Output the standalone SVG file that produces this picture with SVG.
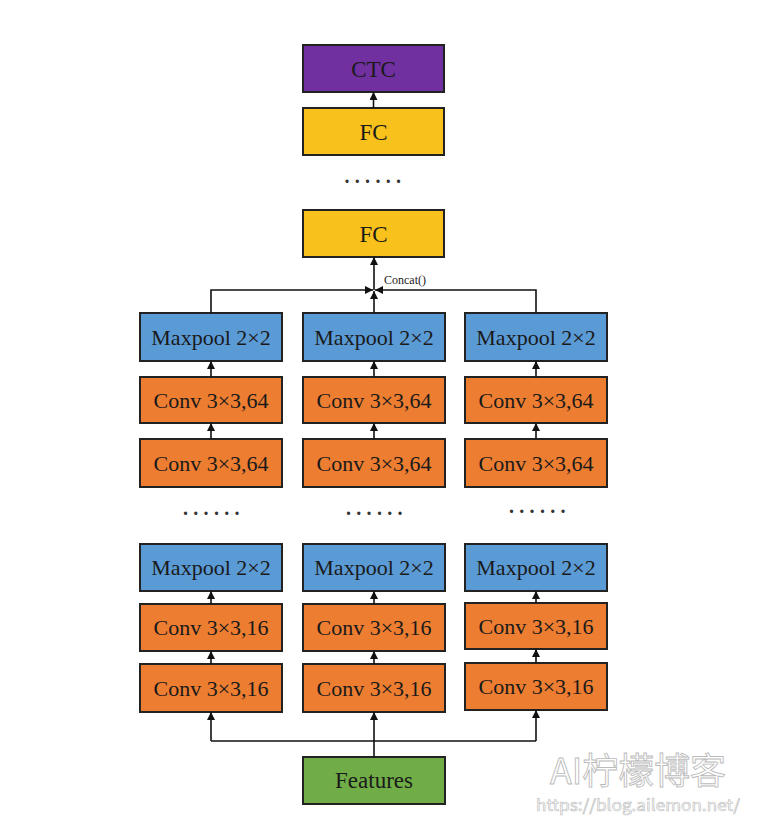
<svg xmlns="http://www.w3.org/2000/svg" width="766" height="836" viewBox="0 0 766 836">
<defs>
<marker id="ah" viewBox="0 0 8 8" refX="8" refY="4" markerWidth="8" markerHeight="8" markerUnits="userSpaceOnUse" orient="auto">
<path d="M0,0 L8,4 L0,8 z" fill="#111"/>
</marker>
</defs>
<style>
rect{stroke:#222;stroke-width:2}
.ctc{fill:#7030A0}
.fc{fill:#F9C11C}
.mp{fill:#5B9BD5}
.cv{fill:#ED7D31}
.ft{fill:#70AD47}
text{font-family:"Liberation Serif","Times New Roman",serif;fill:#1a1a1a;text-anchor:middle}
.t{font-size:22px}
.b{font-size:23px}
.sm{font-size:12px;text-anchor:start}
.dots{font-size:20px;letter-spacing:5.3px;text-anchor:start;font-weight:bold;fill:#333}
.cn line,.cn path{stroke:#111;stroke-width:1.6;fill:none}
.wm{font-family:"Noto Sans CJK SC","Noto Sans",sans-serif;fill:#fff;stroke:#bbb;stroke-width:0.9;text-anchor:start}
</style>
<rect width="766" height="836" fill="#fff" style="stroke:none"/>

<g id="ctc"><rect class="ctc" x="303" y="45" width="141" height="47"/><text class="b" x="373.5" y="76.5">CTC</text></g>
<g id="fc-top"><rect class="fc" x="303" y="108" width="141" height="47"/><text class="b" x="373.5" y="139.5">FC</text></g>
<text class="dots" x="344.5" y="183">......</text>
<g id="fc"><rect class="fc" x="303" y="210" width="141" height="47"/><text class="b" x="373.5" y="241.5">FC</text></g>
<text class="sm" x="384" y="284">Concat()</text>

<g id="mp1-l"><rect class="mp" x="140" y="313" width="142" height="48"/><text class="t" x="211" y="344.5">Maxpool 2×2</text></g>
<g id="mp1-m"><rect class="mp" x="303" y="313" width="142" height="48"/><text class="t" x="374" y="344.5">Maxpool 2×2</text></g>
<g id="mp1-r"><rect class="mp" x="465" y="313" width="142" height="48"/><text class="t" x="536" y="344.5">Maxpool 2×2</text></g>

<g id="c64a-l"><rect class="cv" x="140" y="377" width="142" height="46"/><text class="t" x="211" y="407.5">Conv 3×3,64</text></g>
<g id="c64a-m"><rect class="cv" x="303" y="377" width="142" height="46"/><text class="t" x="374" y="407.5">Conv 3×3,64</text></g>
<g id="c64a-r"><rect class="cv" x="465" y="377" width="142" height="46"/><text class="t" x="536" y="407.5">Conv 3×3,64</text></g>

<g id="c64b-l"><rect class="cv" x="140" y="439" width="142" height="48"/><text class="t" x="211" y="470.5">Conv 3×3,64</text></g>
<g id="c64b-m"><rect class="cv" x="303" y="439" width="142" height="48"/><text class="t" x="374" y="470.5">Conv 3×3,64</text></g>
<g id="c64b-r"><rect class="cv" x="465" y="439" width="142" height="48"/><text class="t" x="536" y="470.5">Conv 3×3,64</text></g>

<text class="dots" x="183" y="515">......</text>
<text class="dots" x="346" y="515">......</text>
<text class="dots" x="509" y="513">......</text>

<g id="mp2-l"><rect class="mp" x="140" y="544" width="142" height="47"/><text class="t" x="211" y="575">Maxpool 2×2</text></g>
<g id="mp2-m"><rect class="mp" x="303" y="544" width="142" height="47"/><text class="t" x="374" y="575">Maxpool 2×2</text></g>
<g id="mp2-r"><rect class="mp" x="465" y="544" width="142" height="47"/><text class="t" x="536" y="575">Maxpool 2×2</text></g>

<g id="c16a-l"><rect class="cv" x="140" y="604" width="142" height="47"/><text class="t" x="211" y="635">Conv 3×3,16</text></g>
<g id="c16a-m"><rect class="cv" x="303" y="604" width="142" height="47"/><text class="t" x="374" y="635">Conv 3×3,16</text></g>
<g id="c16a-r"><rect class="cv" x="465" y="603" width="142" height="46"/><text class="t" x="536" y="633.5">Conv 3×3,16</text></g>

<g id="c16b-l"><rect class="cv" x="140" y="664" width="142" height="48"/><text class="t" x="211" y="695.5">Conv 3×3,16</text></g>
<g id="c16b-m"><rect class="cv" x="303" y="664" width="142" height="48"/><text class="t" x="374" y="695.5">Conv 3×3,16</text></g>
<g id="c16b-r"><rect class="cv" x="465" y="663" width="142" height="47"/><text class="t" x="536" y="694">Conv 3×3,16</text></g>

<g id="features"><rect class="ft" x="303" y="757" width="142" height="47"/><text class="b" x="374" y="788">Features</text></g>

<g id="connectors" class="cn">
<line x1="373.5" y1="108" x2="373.5" y2="92" marker-end="url(#ah)"/>
<line x1="374" y1="290" x2="374" y2="257" marker-end="url(#ah)"/>
<path d="M211,313 V290 H373" marker-end="url(#ah)"/>
<path d="M536,313 V290 H375" marker-end="url(#ah)"/>
<line x1="374" y1="313" x2="374" y2="291" marker-end="url(#ah)"/>
<line x1="211" y1="377" x2="211" y2="361" marker-end="url(#ah)"/>
<line x1="374" y1="377" x2="374" y2="361" marker-end="url(#ah)"/>
<line x1="536" y1="377" x2="536" y2="361" marker-end="url(#ah)"/>
<line x1="211" y1="439" x2="211" y2="423" marker-end="url(#ah)"/>
<line x1="374" y1="439" x2="374" y2="423" marker-end="url(#ah)"/>
<line x1="536" y1="439" x2="536" y2="423" marker-end="url(#ah)"/>
<line x1="211" y1="604" x2="211" y2="591" marker-end="url(#ah)"/>
<line x1="374" y1="604" x2="374" y2="591" marker-end="url(#ah)"/>
<line x1="536" y1="603" x2="536" y2="591" marker-end="url(#ah)"/>
<line x1="211" y1="664" x2="211" y2="651" marker-end="url(#ah)"/>
<line x1="374" y1="664" x2="374" y2="651" marker-end="url(#ah)"/>
<line x1="536" y1="663" x2="536" y2="649" marker-end="url(#ah)"/>
<line x1="374" y1="757" x2="374" y2="741"/>
<path d="M211,741 H536"/>
<line x1="211" y1="741" x2="211" y2="712" marker-end="url(#ah)"/>
<line x1="374" y1="741" x2="374" y2="712" marker-end="url(#ah)"/>
<line x1="536" y1="741" x2="536" y2="710" marker-end="url(#ah)"/>
</g>

<text class="wm" x="550" y="784" font-size="36" textLength="176" lengthAdjust="spacingAndGlyphs">AI柠檬博客</text>
<text class="wm" x="536" y="811" font-size="16" textLength="204" lengthAdjust="spacingAndGlyphs" style="stroke-width:0.6">https://blog.ailemon.net/</text>
</svg>
